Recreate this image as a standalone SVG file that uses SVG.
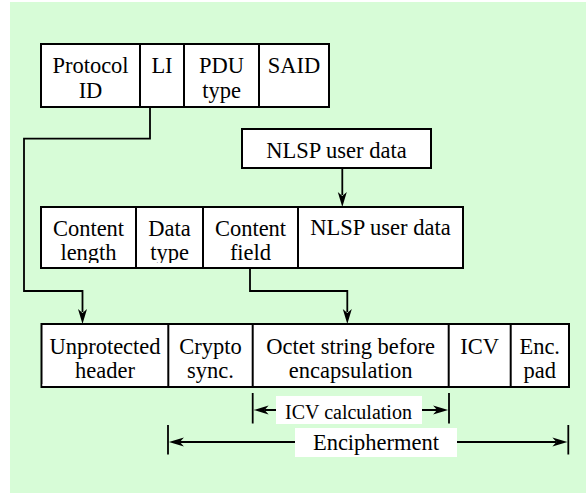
<svg xmlns="http://www.w3.org/2000/svg" width="586" height="495" viewBox="0 0 586 495" font-family="serif">
  <style>
    .box { fill: #ffffff; stroke: #000000; stroke-width: 2; }
    .div { stroke: #000000; stroke-width: 2; }
    .wire { fill: none; stroke: #000000; stroke-width: 1.8; }
    .tick { stroke: #000000; stroke-width: 1.8; }
    .head { fill: #000000; stroke: none; }
    .lbl { fill: #ffffff; stroke: none; }
    text { fill: #000000; text-anchor: middle; font-size: 22.5px; }
  </style>

  <rect x="10" y="2" width="576" height="491" fill="#d7fcd7"/>

  <g id="header-fields">
    <rect class="box" x="41" y="44" width="288" height="63"/>
    <line class="div" x1="140" y1="44" x2="140" y2="107"/>
    <line class="div" x1="184" y1="44" x2="184" y2="107"/>
    <line class="div" x1="259" y1="44" x2="259" y2="107"/>
    <text x="90.5" y="73" style="font-family: 'Liberation Serif'">Protocol</text>
    <text x="90.5" y="98" style="font-family: 'Liberation Serif'">ID</text>
    <text x="162" y="73" style="font-family: 'Liberation Serif'">LI</text>
    <text x="221.5" y="73" style="font-family: 'Liberation Serif'">PDU</text>
    <text x="221.5" y="98" style="font-family: 'Liberation Serif'">type</text>
    <text x="294" y="73" style="font-family: 'Liberation Serif'">SAID</text>
  </g>

  <g id="user-data">
    <rect class="box" x="242" y="129" width="189" height="39"/>
    <text x="336.5" y="158" style="font-family: 'Liberation Serif'">NLSP user data</text>
  </g>

  <g id="content-fields">
    <rect class="box" x="41" y="207" width="422" height="61"/>
    <text x="88.5" y="236" style="font-family: 'Liberation Serif'">Content</text>
    <text x="88.5" y="260" style="font-family: 'Liberation Serif'">length</text>
    <text x="169.5" y="236" style="font-family: 'Liberation Serif'">Data</text>
    <text x="169.5" y="260" style="font-family: 'Liberation Serif'">type</text>
    <text x="250.5" y="236" style="font-family: 'Liberation Serif'">Content</text>
    <text x="250.5" y="260" style="font-family: 'Liberation Serif'">field</text>
    <text x="380.5" y="235" style="font-family: 'Liberation Serif'">NLSP user data</text>
    <rect class="lbl" x="42" y="263" width="420" height="4"/>
    <line class="div" x1="136" y1="207" x2="136" y2="268"/>
    <line class="div" x1="203" y1="207" x2="203" y2="268"/>
    <line class="div" x1="298" y1="207" x2="298" y2="268"/>
  </g>

  <g id="protected-pdu">
    <rect class="box" x="41.5" y="324" width="527.5" height="63"/>
    <text x="105" y="354" style="font-family: 'Liberation Serif'">Unprotected</text>
    <text x="105" y="378" style="font-family: 'Liberation Serif'">header</text>
    <text x="210.5" y="354" style="font-family: 'Liberation Serif'">Crypto</text>
    <text x="210.5" y="378" style="font-family: 'Liberation Serif'">sync.</text>
    <text x="350.7" y="354" style="font-family: 'Liberation Serif'">Octet string before</text>
    <text x="350.7" y="378" style="font-family: 'Liberation Serif'">encapsulation</text>
    <text x="479.7" y="354" style="font-family: 'Liberation Serif'">ICV</text>
    <text x="539.7" y="354" style="font-family: 'Liberation Serif'">Enc.</text>
    <text x="539.7" y="378" style="font-family: 'Liberation Serif'">pad</text>
    <rect class="lbl" x="42.5" y="384" width="525.5" height="2"/>
    <line class="div" x1="168.3" y1="324" x2="168.3" y2="387"/>
    <line class="div" x1="252.7" y1="324" x2="252.7" y2="387"/>
    <line class="div" x1="448.7" y1="324" x2="448.7" y2="387"/>
    <line class="div" x1="510.7" y1="324" x2="510.7" y2="387"/>
  </g>

  <g id="connectors">
    <polyline class="wire" points="150,107 150,138.7 24,138.7 24,291 82.5,291 82.5,312"/>
    <path class="head" d="M82.5,324 L78,309 L82.5,313 L87,309 Z"/>
    <polyline class="wire" points="250,268 250,291 347.3,291 347.3,312"/>
    <path class="head" d="M347.3,324 L342.8,309 L347.3,313 L351.8,309 Z"/>
    <line class="wire" x1="342.3" y1="168" x2="342.3" y2="195"/>
    <path class="head" d="M342.3,207 L337.8,192 L342.3,196 L346.8,192 Z"/>
  </g>

  <g id="icv-range">
    <line class="tick" x1="252.7" y1="393" x2="252.7" y2="423.5"/>
    <line class="tick" x1="449" y1="393" x2="449" y2="423.5"/>
    <line class="wire" x1="265" y1="410" x2="437" y2="410"/>
    <path class="head" d="M253.6,410 L268.6,405.5 L264.6,410 L268.6,414.5 Z"/>
    <path class="head" d="M448.1,410 L433.1,405.5 L437.1,410 L433.1,414.5 Z"/>
    <rect class="lbl" x="276" y="396" width="146" height="28"/>
    <text x="348.5" y="419" style="font-family: 'Liberation Serif'; font-size: 20px">ICV calculation</text>
  </g>

  <g id="encipherment-range">
    <line class="tick" x1="168" y1="425" x2="168" y2="454.5"/>
    <line class="tick" x1="568.3" y1="425" x2="568.3" y2="454.5"/>
    <line class="wire" x1="180" y1="442" x2="556" y2="442"/>
    <path class="head" d="M168.9,442 L183.9,437.5 L179.9,442 L183.9,446.5 Z"/>
    <path class="head" d="M567.4,442 L552.4,437.5 L556.4,442 L552.4,446.5 Z"/>
    <rect class="lbl" x="295" y="428" width="162" height="29"/>
    <text x="376" y="450" style="font-family: 'Liberation Serif'">Encipherment</text>
  </g>
</svg>
